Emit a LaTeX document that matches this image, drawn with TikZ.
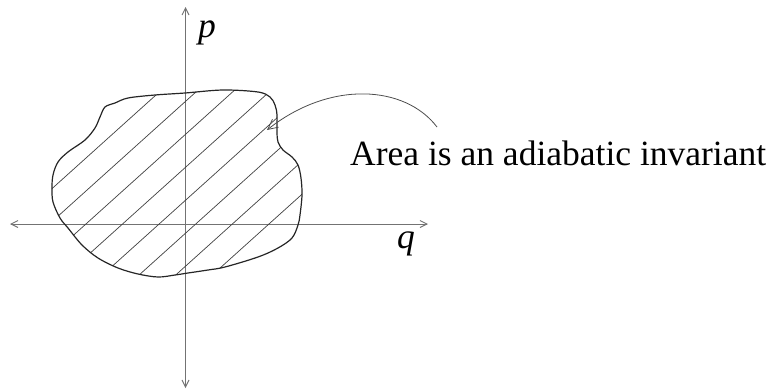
\documentclass[tikz,border=0pt]{standalone}
\usepackage{fontspec}
\setmainfont{Liberation Serif}
\usetikzlibrary{arrows.meta}
\begin{document}
\begin{tikzpicture}[x=1pt,y=-1pt,
  axis/.style={draw=black!55,line width=0.9pt,{Straight Barb[length=7pt,width=7pt]}-{Straight Barb[length=7pt,width=7pt]}},
  blob/.style={draw=black!85,line width=1.2pt},
  hatch/.style={draw=black!75,line width=0.7pt},
  pointer/.style={draw=black!70,line width=0.8pt,-{Straight Barb[length=10pt,width=10pt]}},
  lbl/.style={font=\fontsize{35.5}{40}\selectfont,inner sep=0pt}]
\useasboundingbox (0,0) rectangle (769,391);
% axes
\coordinate (xl) at (10,224);
\coordinate (xr) at (428,224);
\coordinate (yt) at (185.5,7);
\coordinate (yb) at (185.5,388);
\draw[axis] (xl) -- (xr);
\draw[axis] (yt) -- (yb);
% blob
\def\blobpath{plot[smooth cycle,tension=0.55] coordinates {
 (185,93) (223,90) (258,92) (270,97) (275,105) (277,115) (277,132) (278,142)
 (283,150) (292,157) (298,165) (301,178) (302,195) (300,215) (298,225)
 (292,238) (278,248) (258,257) (225,267) (208,270) (188,273) (175,275)
 (158,277) (138,274) (118,268) (98,258) (82,245) (68,228) (60,218)
 (53,202) (52,188) (53,175) (58,162) (68,152) (85,140) (95,128)
 (100,117) (105,107) (115,103) (128,98) (155,95)}}
\begin{scope}
\clip \blobpath;
\foreach \d in {175,199.5,224,248.5,273,297.5,322,346.5}{
  \draw[hatch] ({0.669*\d-0.743*300},{0.743*\d+0.669*300}) -- ({0.669*\d+0.743*300},{0.743*\d-0.669*300});
}
\end{scope}
\draw[blob] \blobpath;
% labels
\node[lbl,anchor=center] (p) at (207,33) {\textit{p}};
\node[lbl,anchor=center] (q) at (406,244) {\textit{q}};
\node[lbl,anchor=base west] (area) at (350,165) {Area is an adiabatic invariant};
% pointer
\coordinate (ps) at (437,127);
\coordinate (pe) at (267,130);
\draw[pointer] (ps) .. controls (405,85) and (330,80) .. (pe);
\end{tikzpicture}
\end{document}
